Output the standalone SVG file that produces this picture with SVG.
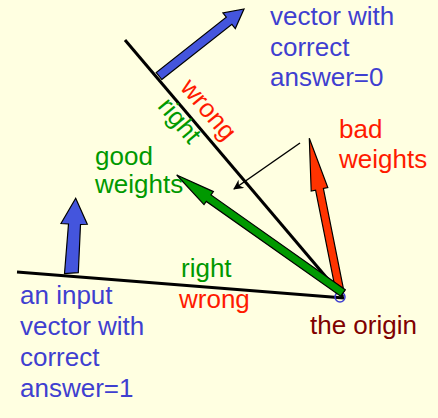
<svg xmlns="http://www.w3.org/2000/svg" width="438" height="418" viewBox="0 0 438 418">
<defs>
<style>
text{font-family:"Liberation Sans",Arial,sans-serif;font-size:26px}
.blue{fill:#3F3FD0}
.red{fill:#FF1A00}
.green{fill:#009900}
.origin{fill:#800000}
.line{stroke:#000;stroke-width:3;fill:none}
.arrow{stroke:#000;stroke-width:1.2;stroke-linejoin:miter}
</style>
<marker id="thinhead" viewBox="0 0 10 10" refX="9" refY="5" markerWidth="10" markerHeight="10" markerUnits="userSpaceOnUse" orient="auto">
<path d="M0,0 L10,5 L0,10 L3,5 Z" fill="#000"/>
</marker>
</defs>
<rect x="0" y="0" width="438" height="418" fill="#FFFFE1"/>
<g id="connectors">
<line id="plane-upper" class="line" x1="125" y1="40" x2="343" y2="297"/>
<line id="plane-lower" class="line" x1="17" y1="272" x2="344" y2="298"/>
<line id="pointer" x1="300" y1="143" x2="234" y2="189" stroke="#000" stroke-width="1.5" marker-end="url(#thinhead)"/>
</g>
<g id="origin">
<circle cx="340" cy="297" r="5" fill="none" stroke="#3F3FD0" stroke-width="1.5"/>
<text class="origin" x="310" y="334">the origin</text>
</g>
<g id="vector-answer0">
<polygon class="arrow" fill="#4455DD" points="161.8,79.5 231.9,24.3 235.3,28.6 244,9 222.9,12.9 226.3,17.2 156.2,72.5"/>
<text class="blue" x="270" y="25">vector with</text>
<text class="blue" x="270" y="56">correct</text>
<text class="blue" x="270" y="86">answer=0</text>
</g>
<g id="vector-answer1">
<polygon class="arrow" fill="#4455DD" points="64.5,273.5 68.5,224 61,223.5 75.7,198.3 87.3,224.3 80.5,224.5 78.3,272.7"/>
<text class="blue" x="20" y="304">an input</text>
<text class="blue" x="20" y="335">vector with</text>
<text class="blue" x="20" y="366">correct</text>
<text class="blue" x="20" y="397">answer=1</text>
</g>
<g id="bad-weights">
<polygon class="arrow" fill="#FF3300" points="343.9,291.2 323.4,188.5 327.8,187.6 309.3,138.3 311.2,191.0 315.6,190.1 336.1,292.8"/>
<text class="red" x="339" y="138">bad</text>
<text class="red" x="339" y="168">weights</text>
</g>
<g id="good-weights">
<polygon class="arrow" fill="#009900" points="345.3,289.8 211.0,194.9 213.4,191.6 176.7,175 204.0,204.6 206.3,201.4 340.7,296.2"/>
<text class="green" x="95" y="165">good</text>
<text class="green" x="95" y="193">weights</text>
</g>
<g id="labels">
<text class="red" text-anchor="middle" transform="translate(202,115) rotate(49.8)">wrong</text>
<text class="green" text-anchor="middle" transform="translate(173,126) rotate(49.8)">right</text>
<text class="green" x="181" y="277">right</text>
<text class="red" x="179" y="308">wrong</text>
</g>
</svg>
